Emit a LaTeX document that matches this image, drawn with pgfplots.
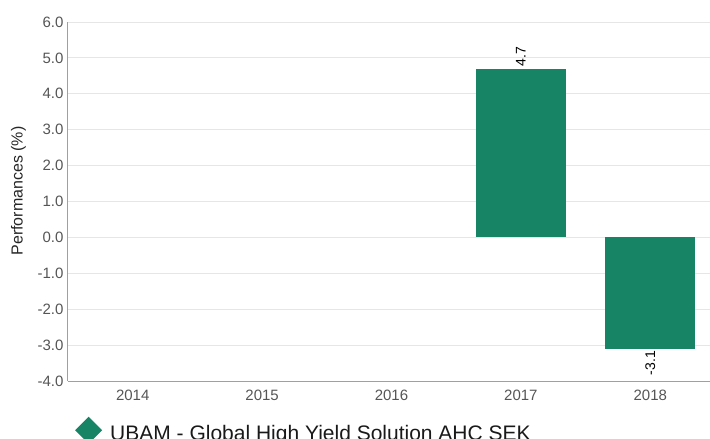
\documentclass[border=0pt]{standalone}
\usepackage{pgfplots}
\pgfplotsset{compat=1.18}
\usepackage{fontspec}
\setmainfont{Liberation Sans}

\definecolor{bargreen}{RGB}{23,133,101}
\definecolor{tickgrey}{RGB}{85,85,85}
\definecolor{gridgrey}{RGB}{230,230,230}
\definecolor{axisgrey}{RGB}{160,160,160}

\begin{document}
\begin{tikzpicture}
\begin{axis}[
    at={(0,0)}, anchor=south west,
    scale only axis,
    width=647pt, height=359pt,
    xmin=-0.5, xmax=4.5,
    ymin=-4, ymax=6,
    xtick={0,1,2,3,4},
    xticklabels={2014,2015,2016,2017,2018},
    ytick={-4,-3,...,6},
    axis x line*=bottom,
    axis y line*=left,
    axis line style={axisgrey, line width=1pt, -},
    major tick length=0pt,
    ymajorgrids,
    grid style={gridgrey, line width=1pt},
    ticklabel style={font=\fontsize{15}{18}\selectfont, text=tickgrey},
    /pgf/number format/assume math mode=true,
    yticklabel style={/pgf/number format/fixed, /pgf/number format/fixed zerofill,
        /pgf/number format/precision=1, xshift=-1pt},
    xticklabel style={yshift=-5pt},
    ylabel={Performances (\%)},
    every axis y label/.style={at={(axis description cs:-0.0765,0.529)}, rotate=90, anchor=center,
        font=\fontsize{16}{19}\selectfont, text=black!85},
    ybar, bar width=90pt, bar shift=0pt,
    nodes near coords,
    nodes near coords style={font=\fontsize{14}{17}\selectfont, text=black,
        /pgf/number format/fixed, /pgf/number format/precision=1},
    legend style={at={(axis description cs:0,0)}, anchor=north west,
        xshift=7pt, yshift=-35.5pt, draw=none, fill=none, inner sep=0pt,
        font=\fontsize{21}{25}\selectfont, text=black!90,
        /tikz/every odd column/.append style={column sep=8pt},
        nodes={inner sep=0pt}},
    legend image code/.code={
        \fill[bargreen] (0pt,3pt) -- (13.5pt,16.5pt) -- (27pt,3pt) -- (13.5pt,-10.5pt) -- cycle;
    },
]
\addplot[fill=bargreen, draw=none,
    every node near coord/.append style={rotate=90, anchor=west, inner sep=2pt}]
    coordinates {(3,4.7)};
\addlegendentry{UBAM - Global High Yield Solution AHC SEK}
\addplot[fill=bargreen, draw=none, forget plot,
    every node near coord/.append style={rotate=90, anchor=east, inner sep=2pt}]
    coordinates {(4,-3.1)};
\end{axis}
\pgfresetboundingbox
\path[use as bounding box] (-68pt,-58pt) rectangle (642pt,381pt);
\end{tikzpicture}
\end{document}
